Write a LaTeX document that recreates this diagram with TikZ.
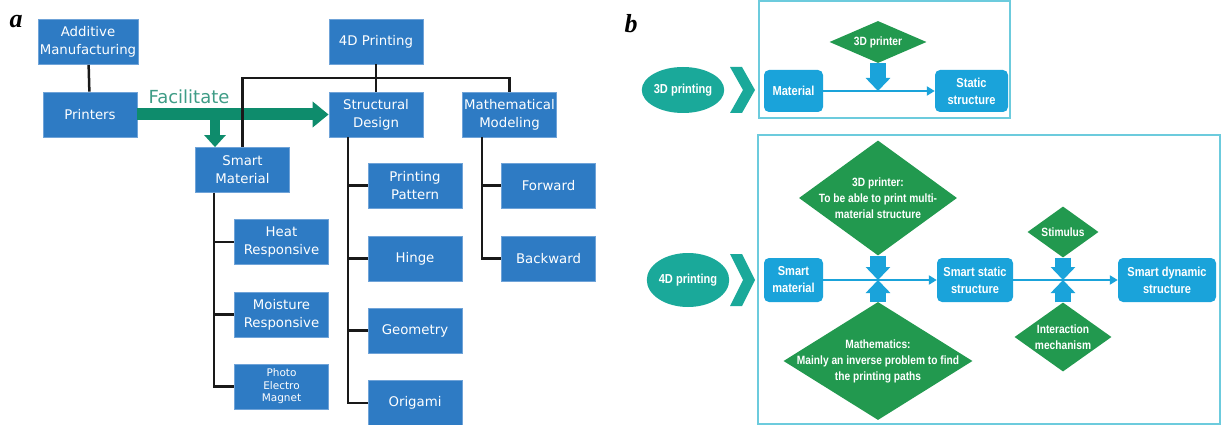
\documentclass[tikz,border=0pt]{standalone}
\usepackage{fontspec}
\setmainfont{DejaVu Sans}
\newfontfamily\narrowfont[FakeStretch=0.85]{Liberation Sans}
\newfontfamily\panelfont{Liberation Serif}
\usetikzlibrary{arrows.meta,positioning,shapes.geometric}

\definecolor{boxblue}{HTML}{2E7BC4}
\definecolor{boxedge}{HTML}{6FA3D8}
\definecolor{facgreen}{HTML}{0E8C6C}
\definecolor{factext}{HTML}{3E9C86}
\definecolor{cyanbox}{HTML}{1AA3DA}
\definecolor{diagreen}{HTML}{22994F}
\definecolor{ovalteal}{HTML}{1AA99A}
\definecolor{framecyan}{HTML}{6CCBDD}

\tikzset{
  tree/.style={draw=black!90, line width=2.5pt},
  fat/.style={draw=facgreen, line width=12pt, -{Triangle[width=25pt,length=16pt]}},
  box/.style={fill=boxblue, draw=boxedge, line width=0.8pt, text=white,
    minimum width=94pt, minimum height=45pt, inner sep=1pt, align=center,
    font=\fontsize{13.3}{18}\selectfont},
  rbox/.style={fill=cyanbox, rounded corners=5pt, text=white, inner sep=1pt,
    align=center, font=\narrowfont\bfseries\fontsize{13}{17}\selectfont},
  oval/.style={ellipse, fill=ovalteal, text=white, inner sep=0pt,
    minimum width=74pt, minimum height=46pt, font=\narrowfont\bfseries\fontsize{13}{17}\selectfont},
  gdia/.style={diamond, fill=diagreen, inner sep=0pt},
  dtext/.style={text=white, align=center, font=\narrowfont\bfseries\fontsize{12}{16}\selectfont},
  flow/.style={draw=cyanbox, line width=2pt, -{Triangle[width=9pt,length=8pt]}},
  block/.style={draw=cyanbox, line width=16pt, -{Triangle[width=24pt,length=13pt]}},
  frame/.style={draw=framecyan, line width=1.5pt},
  panel/.style={font=\panelfont\bfseries\itshape\fontsize{26}{26}\selectfont}
}

\begin{document}
\begin{tikzpicture}[x=1pt,y=-1pt]
\useasboundingbox (0,0) rectangle (1223,425);

% panel a
\node[panel] (la) at (16,22) {a};
\node[box, minimum width=100pt] (am) at (88,42) {Additive\\Manufacturing};
\node[box] (pr) at (90,114.5) {Printers};
\node[box] (d4) at (376,41.5) {4D Printing};
\node[box] (sd) at (376,114.5) {Structural\\Design};
\node[box] (mm) at (509.5,114.5) {Mathematical\\Modeling};
\node[box] (sm) at (242.5,170) {Smart\\Material};
\node[box] (hr) at (281.5,242) {Heat\\Responsive};
\node[box] (mr) at (281.5,314.5) {Moisture\\Responsive};
\node[box, font=\fontsize{10.5}{12.5}\selectfont] (pem) at (281.5,386.5) {Photo\\Electro\\Magnet};
\node[box] (pp) at (415,185.5) {Printing\\Pattern};
\node[box] (hi) at (415,258.5) {Hinge};
\node[box] (ge) at (415,330.5) {Geometry};
\node[box] (ori) at (415,403) {Origami};
\node[box] (fw) at (548.5,185.5) {Forward};
\node[box] (bw) at (548.5,258.5) {Backward};

\draw[fat] (pr.east) -- (sd.west);
\coordinate (fa) at (215,116);
\draw[fat, line width=10pt, -{Triangle[width=21pt,length=12pt]}] (fa) -- (fa |- sm.north);
\node[text=factext, font=\fontsize{18}{18}\selectfont] (fac) at (189,97) {Facilitate};

\coordinate (bus) at (376,78);
\draw[tree] (am) -- (pr);
\draw[tree] (d4) -- (sd);
\draw[tree] (sm.north) |- (bus) -| (mm.north);
\foreach \c in {hr,mr,pem}
  \draw[tree] ([xshift=-28.5pt]sm.south) |- (\c.west);
\foreach \c in {pp,hi,ge,ori}
  \draw[tree] ([xshift=-28pt]sd.south) |- (\c.west);
\foreach \c in {fw,bw}
  \draw[tree] ([xshift=-27.5pt]mm.south) |- (\c.west);

% panel b
\node[panel] (lb) at (631,24) {b};
\draw[frame] (759,1) rectangle (1010,118);
\draw[frame] (758,135) rectangle (1220,424);

\node[oval] (p3) at (683,90) {3D printing};
\node[oval, minimum width=80pt, minimum height=54pt] (p4) at (688,280) {4D printing};
\foreach \y/\h in {90/23,280/26}
  \fill[ovalteal] (730,\y-\h) -- (742,\y-\h) -- (755,\y) -- (742,\y+\h)
    -- (730,\y+\h) -- (743,\y) -- cycle;

\node[rbox, minimum width=59pt, minimum height=42pt] (mat) at (793.5,91) {Material};
\node[rbox, minimum width=73pt, minimum height=42pt] (st) at (971.5,91) {Static\\structure};
\node[gdia, minimum width=97pt, minimum height=42pt,
  label={[dtext]center:3D printer}] (pr3) at (878,42) {};

\node[rbox, minimum width=59pt, minimum height=44pt] (sm2) at (793.5,280) {Smart\\material};
\node[rbox, minimum width=76pt, minimum height=44pt] (ss) at (975,280) {Smart static\\structure};
\node[rbox, minimum width=98pt, minimum height=44pt] (sdy) at (1167,280) {Smart dynamic\\structure};
\node[gdia, minimum width=158pt, minimum height=115pt,
  label={[dtext]center:{3D printer:\\To be able to print multi-\\material structure}}] (pr3b) at (878,198) {};
\node[gdia, minimum width=189pt, minimum height=118pt,
  label={[dtext]center:{Mathematics:\\Mainly an inverse problem to find\\the printing paths}}] (mth) at (878,361) {};
\node[gdia, minimum width=71pt, minimum height=51pt,
  label={[dtext]center:Stimulus}] (stim) at (1063,232) {};
\node[gdia, minimum width=97pt, minimum height=69pt,
  label={[dtext]center:{Interaction\\mechanism}}] (inter) at (1063,337) {};

\draw[flow] (mat) -- (st);
\draw[flow] (sm2) -- (ss);
\draw[flow] (ss) -- (sdy);
\draw[block] (pr3.south) -- (pr3.south |- mat.center);
\draw[block] (pr3b.south) -- (pr3b.south |- sm2.center);
\draw[block] (mth.north) -- (mth.north |- sm2.center);
\draw[block] (stim.south) -- (stim.south |- sm2.center);
\draw[block] (inter.north) -- (inter.north |- sm2.center);
\end{tikzpicture}
\end{document}
